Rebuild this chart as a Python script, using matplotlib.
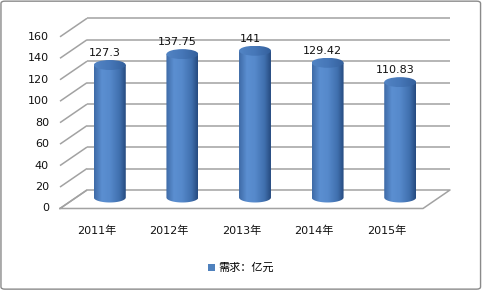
import numpy as np
import matplotlib
matplotlib.use('Agg')
import matplotlib.pyplot as plt
from matplotlib.path import Path
from matplotlib.patches import PathPatch, Patch, FancyBboxPatch, Ellipse
from matplotlib.colors import LinearSegmentedColormap

plt.rcParams['font.family'] = ['DejaVu Sans', 'Noto Sans CJK SC']

# ---- data ----
categories = ['2011年', '2012年', '2013年', '2014年', '2015年']
values = [127.3, 137.75, 141, 129.42, 110.83]
value_labels = ['127.3', '137.75', '141', '129.42', '110.83']
y_ticks = [0, 20, 40, 60, 80, 100, 120, 140, 160]
series_name = '需求：亿元'

# ---- 3D-look geometry (in data units) ----
DX = 0.372      # depth offset along category axis
DY = 17.24      # depth offset along value axis
R = 0.22        # cylinder radius (category units)
EH = 9.3        # ellipse height (value units)
BASE = 10.25    # cylinder base centre (value units)
HS = 0.97       # height scale at mid depth
GRID = '#a2a2a2'

fig = plt.figure(figsize=(4.82, 2.90), dpi=100)
ax = fig.add_axes([0, 0, 1, 1])

n = len(categories)
xs = np.arange(n)
x_left, x_right = -0.5, n - 0.5

# back-wall gridlines + left diagonals
for t in y_ticks:
    ax.plot([x_left, x_left + DX], [t, t + DY], color=GRID, lw=1.1, zorder=1,
            solid_capstyle='butt')
    if t > 0:
        ax.plot([x_left + DX, x_right + DX], [t + DY, t + DY], color=GRID,
                lw=1.1, zorder=1, solid_capstyle='butt')
    ax.text(x_left - 0.151, t, str(t), ha='right', va='center', fontsize=8,
            color='#111111')

# floor
floor_x = [x_left, x_right, x_right + DX, x_left + DX, x_left]
floor_y = [0, 0, DY, DY, 0]
ax.plot(floor_x, floor_y, color=GRID, lw=1.1, zorder=1)

body_cmap = LinearSegmentedColormap.from_list('body', [
    (0.0, '#3e6aa6'), (0.25, '#5b8fd1'), (0.5, '#5689cb'),
    (0.8, '#4070ae'), (1.0, '#264a7f')])
top_cmap = LinearSegmentedColormap.from_list('top', [
    (0.0, '#5284c4'), (0.5, '#4677b8'), (1.0, '#34609c')])
grad = np.linspace(0, 1, 256).reshape(1, -1)

for i, v in enumerate(values):
    cx = xs[i] + DX / 2
    top = BASE + v * HS
    th = np.linspace(np.pi, 2 * np.pi, 60)
    px = np.concatenate([[cx - R], cx + R * np.cos(th), [cx + R, cx - R]])
    py = np.concatenate([[top], BASE + EH / 2 * np.sin(th), [top, top]])
    verts = np.column_stack([px, py])
    codes = [Path.MOVETO] + [Path.LINETO] * (len(verts) - 2) + [Path.CLOSEPOLY]
    body = PathPatch(Path(verts, codes), fc='none', ec='none',
                     transform=ax.transData)
    ax.add_patch(body)
    im = ax.imshow(grad, extent=[cx - R, cx + R, BASE - EH, top],
                   aspect='auto', cmap=body_cmap, interpolation='bilinear',
                   zorder=3)
    im.set_clip_path(body)
    # top ellipse
    ell = Ellipse((cx, top), 2 * R, EH, fc='none', ec='none',
                  transform=ax.transData)
    ax.add_patch(ell)
    im2 = ax.imshow(grad, extent=[cx - R, cx + R, top - EH / 2, top + EH / 2],
                    aspect='auto', cmap=top_cmap, interpolation='bilinear',
                    zorder=4)
    im2.set_clip_path(ell)
    ax.text(cx - 0.07, top + 11.2, value_labels[i], ha='center', va='center',
            fontsize=8, color='#111111', zorder=5)
    ax.text(xs[i], -21, categories[i], ha='center', va='center', fontsize=8,
            color='#111111')

ax.set_xlim(-1.3264, 5.3127)
ax.set_ylim(-75.96, 194.3)
ax.axis('off')

fig.legend(handles=[Patch(facecolor='#4f81bd', edgecolor='none')],
           labels=[series_name], loc='center', bbox_to_anchor=(0.5, 0.076),
           frameon=False, fontsize=8, handlelength=0.65, handleheight=0.65,
           handletextpad=0.3)

fig.patches.append(FancyBboxPatch((0.002, 0.003), 0.995, 0.993,
                                  boxstyle='round,pad=0,rounding_size=0.008',
                                  transform=fig.transFigure, fill=False,
                                  ec='#8a8a8a', lw=1))

fig.savefig('out.png', dpi=100)
